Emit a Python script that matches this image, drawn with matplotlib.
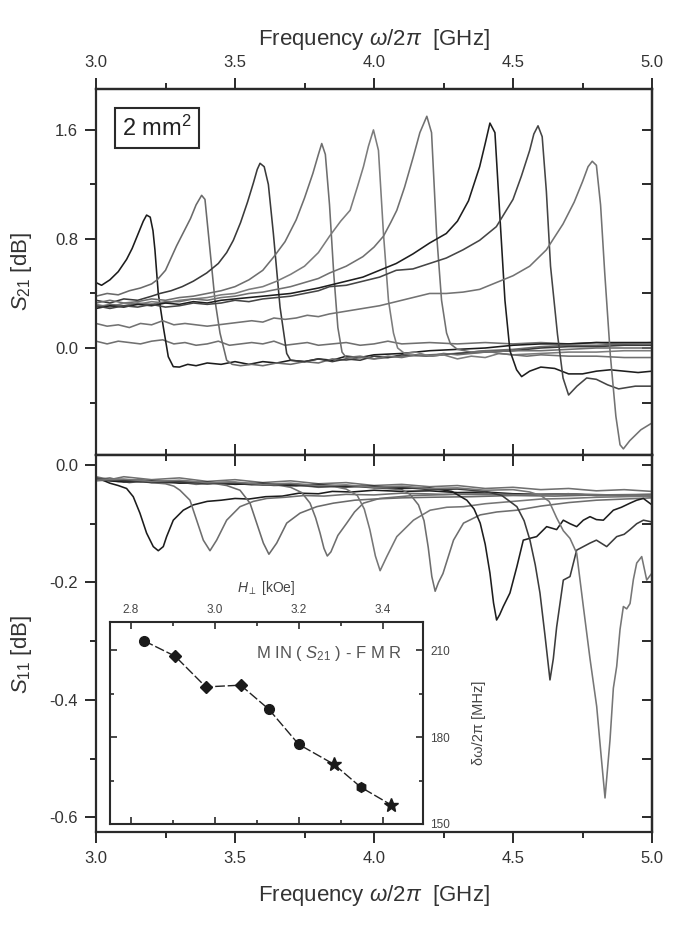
import matplotlib
matplotlib.use("Agg")
from matplotlib import pyplot as plt
from matplotlib.ticker import MultipleLocator, FixedLocator

plt.rcParams['font.family'] = ['Liberation Sans', 'DejaVu Sans']
plt.rcParams['mathtext.fontset'] = 'custom'
plt.rcParams['mathtext.rm'] = 'Liberation Sans'
plt.rcParams['mathtext.it'] = 'Liberation Sans:italic'
plt.rcParams['mathtext.bf'] = 'Liberation Sans:bold'

# S21 traces (frequency GHz, dB)
s21_0 = [(3.00,0.05),(3.04,0.03),(3.08,0.05),(3.12,0.04),(3.16,0.03),(3.20,0.05),(3.24,0.06),(3.28,0.03),(3.32,0.04),(3.36,0.02),
         (3.40,0.03),(3.44,0.05),(3.48,0.02),(3.52,0.03),(3.56,0.04),(3.60,0.03),(3.64,0.05),(3.68,0.02),(3.72,0.03),(3.76,0.04),
         (3.80,0.02),(3.85,0.03),(3.90,0.04),(3.95,0.02),(4.00,0.03),(4.05,0.05),(4.10,0.03),(4.20,0.04),(4.30,0.03),(4.40,0.04),
         (4.50,0.03),(4.60,0.04),(4.70,0.03),(4.80,0.04),(4.90,0.03),(5.00,0.04)]
s21_1 = [(3.00,0.48),(3.02,0.46),(3.05,0.50),(3.08,0.56),(3.11,0.65),(3.13,0.73),(3.15,0.83),(3.17,0.93),(3.182,0.975),(3.195,0.96),
         (3.205,0.86),(3.212,0.72),(3.224,0.40),(3.242,0.156),(3.26,-0.064),(3.278,-0.137),(3.30,-0.14),(3.33,-0.12),(3.36,-0.13),
         (3.40,-0.11),(3.45,-0.12),(3.50,-0.10),(3.55,-0.12),(3.60,-0.10),(3.65,-0.11),(3.70,-0.09),(3.75,-0.10),(3.80,-0.08),
         (3.85,-0.09),(3.90,-0.06),(3.95,-0.07),(4.00,-0.05),(4.10,-0.04),(4.20,-0.02),(4.30,-0.01),(4.40,0.0),(4.50,0.02),
         (4.60,0.03),(4.70,0.03),(4.80,0.04),(4.90,0.04),(5.00,0.04)]
s21_2 = [(3.00,0.38),(3.04,0.40),(3.08,0.39),(3.12,0.42),(3.16,0.44),(3.20,0.47),(3.22,0.50),(3.25,0.57),(3.29,0.75),(3.32,0.87),
         (3.34,0.95),(3.36,1.05),(3.38,1.12),(3.392,1.09),(3.41,0.72),(3.428,0.35),(3.446,0.11),(3.47,-0.09),(3.49,-0.12),
         (3.52,-0.13),(3.56,-0.12),(3.60,-0.13),(3.65,-0.11),(3.70,-0.12),(3.75,-0.10),(3.80,-0.11),(3.85,-0.08),(3.90,-0.09),
         (3.95,-0.07),(4.00,-0.08),(4.10,-0.06),(4.20,-0.05),(4.30,-0.04),(4.40,-0.02),(4.50,-0.01),(4.60,0.01),(4.70,0.02),
         (4.80,0.02),(4.90,0.03),(5.00,0.03)]
s21_3 = [(3.00,0.35),(3.05,0.33),(3.10,0.36),(3.15,0.35),(3.20,0.38),(3.23,0.40),(3.27,0.42),(3.31,0.45),(3.35,0.49),(3.398,0.55),
         (3.44,0.62),(3.47,0.70),(3.494,0.79),(3.52,0.92),(3.545,1.07),(3.566,1.21),(3.58,1.31),(3.59,1.355),(3.605,1.33),
         (3.62,1.20),(3.638,0.84),(3.662,0.30),(3.686,-0.04),(3.70,-0.09),(3.75,-0.10),(3.80,-0.08),(3.85,-0.10),(3.90,-0.08),
         (3.95,-0.09),(4.00,-0.06),(4.05,-0.07),(4.10,-0.05),(4.20,-0.06),(4.30,-0.04),(4.40,-0.03),(4.50,-0.02),(4.60,0.0),
         (4.70,0.01),(4.80,0.01),(4.90,0.02),(5.00,0.02)]
s21_4 = [(3.00,0.33),(3.05,0.35),(3.10,0.33),(3.15,0.34),(3.20,0.36),(3.25,0.35),(3.30,0.37),(3.35,0.38),(3.40,0.40),(3.45,0.42),
         (3.50,0.45),(3.55,0.50),(3.60,0.57),(3.64,0.67),(3.68,0.78),(3.72,0.94),(3.75,1.10),(3.78,1.28),(3.80,1.42),(3.812,1.50),
         (3.825,1.42),(3.84,1.05),(3.855,0.55),(3.87,0.15),(3.885,-0.03),(3.90,-0.07),(3.95,-0.06),(4.00,-0.08),(4.05,-0.06),
         (4.10,-0.07),(4.15,-0.05),(4.20,-0.06),(4.25,-0.04),(4.30,-0.05),(4.40,-0.03),(4.50,-0.02),(4.60,-0.02),(4.70,-0.01),
         (4.80,0.0),(4.90,0.0),(5.00,0.0)]
s21_5 = [(3.00,0.32),(3.05,0.30),(3.10,0.33),(3.15,0.32),(3.20,0.34),(3.25,0.33),(3.30,0.35),(3.35,0.36),(3.40,0.37),(3.45,0.39),
         (3.50,0.40),(3.55,0.43),(3.60,0.45),(3.65,0.49),(3.70,0.54),(3.75,0.60),(3.80,0.70),(3.84,0.82),(3.88,0.93),(3.914,1.01),
         (3.94,1.18),(3.962,1.33),(3.98,1.48),(3.998,1.60),(4.016,1.45),(4.034,0.84),(4.052,0.35),(4.07,0.11),(4.085,0.0),
         (4.11,-0.04),(4.15,-0.03),(4.20,-0.06),(4.25,-0.05),(4.30,-0.08),(4.35,-0.06),(4.40,-0.07),(4.45,-0.04),(4.50,-0.05),
         (4.60,-0.04),(4.70,-0.03),(4.80,-0.03),(4.90,-0.02),(5.00,-0.02)]
s21_6 = [(3.00,0.30),(3.05,0.32),(3.10,0.31),(3.15,0.33),(3.20,0.32),(3.25,0.34),(3.30,0.34),(3.35,0.36),(3.40,0.35),(3.45,0.37),
         (3.50,0.38),(3.55,0.40),(3.60,0.41),(3.65,0.43),(3.70,0.45),(3.75,0.48),(3.80,0.51),(3.84,0.55),(3.90,0.60),(3.96,0.67),
         (4.00,0.74),(4.034,0.82),(4.06,0.92),(4.082,1.01),(4.11,1.18),(4.141,1.40),(4.165,1.58),(4.19,1.70),(4.207,1.58),
         (4.225,0.84),(4.243,0.35),(4.261,0.11),(4.275,0.03),(4.30,-0.01),(4.35,-0.03),(4.40,-0.02),(4.45,-0.04),(4.50,-0.05),
         (4.55,-0.06),(4.60,-0.05),(4.70,-0.06),(4.80,-0.06),(4.90,-0.07),(5.00,-0.07)]
s21_7 = [(3.00,0.29),(3.05,0.31),(3.10,0.30),(3.15,0.32),(3.20,0.31),(3.25,0.33),(3.30,0.32),(3.35,0.34),(3.40,0.33),(3.45,0.35),
         (3.50,0.36),(3.55,0.37),(3.60,0.38),(3.65,0.39),(3.70,0.40),(3.75,0.42),(3.80,0.44),(3.84,0.46),(3.90,0.49),(3.96,0.52),
         (4.02,0.57),(4.08,0.62),(4.14,0.69),(4.20,0.77),(4.26,0.84),(4.30,0.93),(4.34,1.08),(4.38,1.33),(4.40,1.50),(4.417,1.65),
         (4.435,1.58),(4.453,0.96),(4.471,0.35),(4.489,-0.02),(4.513,-0.16),(4.531,-0.21),(4.56,-0.17),(4.60,-0.14),(4.65,-0.15),
         (4.70,-0.19),(4.75,-0.19),(4.80,-0.17),(4.85,-0.16),(4.90,-0.17),(4.95,-0.18),(5.00,-0.17)]
s21_8 = [(3.00,0.31),(3.05,0.29),(3.10,0.31),(3.15,0.30),(3.20,0.32),(3.25,0.30),(3.30,0.31),(3.35,0.33),(3.40,0.32),(3.45,0.33),
         (3.50,0.35),(3.55,0.34),(3.60,0.36),(3.65,0.37),(3.70,0.38),(3.75,0.40),(3.80,0.42),(3.84,0.45),(3.90,0.46),(3.96,0.49),
         (4.02,0.52),(4.08,0.57),(4.14,0.58),(4.20,0.62),(4.26,0.66),(4.32,0.72),(4.38,0.79),(4.44,0.89),(4.50,1.09),(4.53,1.26),
         (4.56,1.45),(4.575,1.57),(4.59,1.63),(4.605,1.55),(4.62,1.15),(4.635,0.60),(4.66,0.10),(4.68,-0.22),(4.70,-0.345),
         (4.73,-0.28),(4.765,-0.22),(4.80,-0.23),(4.84,-0.27),(4.88,-0.30),(4.94,-0.28),(5.00,-0.28)]
s21_9 = [(3.00,0.18),(3.04,0.16),(3.08,0.17),(3.12,0.15),(3.16,0.18),(3.20,0.17),(3.24,0.20),(3.28,0.17),(3.32,0.18),(3.36,0.17),
         (3.40,0.16),(3.44,0.17),(3.48,0.18),(3.52,0.19),(3.56,0.20),(3.60,0.19),(3.64,0.22),(3.68,0.21),(3.72,0.22),(3.76,0.24),
         (3.80,0.23),(3.84,0.25),(3.90,0.27),(3.96,0.29),(4.02,0.31),(4.08,0.34),(4.14,0.37),(4.20,0.40),(4.26,0.40),(4.32,0.41),
         (4.38,0.43),(4.44,0.48),(4.50,0.53),(4.56,0.60),(4.62,0.72),(4.68,0.91),(4.72,1.07),(4.75,1.22),(4.77,1.33),(4.785,1.37),
         (4.80,1.34),(4.815,1.05),(4.83,0.55),(4.85,-0.05),(4.87,-0.50),(4.885,-0.71),(4.897,-0.74),(4.92,-0.68),(4.96,-0.60),
         (5.00,-0.55)]

# S11 traces
s11_0 = [(3.00,-0.020),(3.05,-0.025),(3.10,-0.020),(3.20,-0.025),(3.30,-0.022),(3.40,-0.028),(3.50,-0.025),(3.60,-0.030),
         (3.70,-0.027),(3.80,-0.032),(3.90,-0.030),(4.00,-0.035),(4.10,-0.033),(4.20,-0.037),(4.30,-0.035),(4.40,-0.040),
         (4.50,-0.038),(4.60,-0.042),(4.70,-0.040),(4.80,-0.044),(4.90,-0.042),(5.00,-0.045)]
s11_1 = [(3.00,-0.022),(3.03,-0.027),(3.05,-0.031),(3.08,-0.035),(3.11,-0.040),(3.134,-0.054),(3.158,-0.082),(3.182,-0.116),
         (3.206,-0.139),(3.224,-0.146),(3.242,-0.139),(3.254,-0.122),(3.278,-0.094),(3.314,-0.077),(3.35,-0.068),(3.40,-0.062),
         (3.45,-0.060),(3.50,-0.057),(3.55,-0.058),(3.61,-0.054),(3.67,-0.053),(3.73,-0.048),(3.80,-0.049),(3.85,-0.045),
         (3.92,-0.046),(4.00,-0.043),(4.10,-0.045),(4.20,-0.044),(4.30,-0.047),(4.40,-0.046),(4.50,-0.049),(4.60,-0.050),
         (4.70,-0.049),(4.80,-0.052),(4.90,-0.051),(5.00,-0.054)]
s11_2 = [(3.00,-0.025),(3.05,-0.022),(3.10,-0.028),(3.15,-0.026),(3.20,-0.030),(3.25,-0.032),(3.28,-0.036),(3.302,-0.043),
         (3.338,-0.060),(3.362,-0.094),(3.386,-0.128),(3.41,-0.146),(3.434,-0.128),(3.47,-0.094),(3.518,-0.071),(3.566,-0.062),
         (3.614,-0.057),(3.68,-0.055),(3.75,-0.052),(3.82,-0.053),(3.90,-0.050),(4.00,-0.051),(4.10,-0.048),(4.25,-0.050),
         (4.40,-0.049),(4.55,-0.051),(4.70,-0.050),(4.85,-0.052),(5.00,-0.050)]
s11_3 = [(3.00,-0.027),(3.06,-0.025),(3.12,-0.030),(3.18,-0.027),(3.24,-0.031),(3.30,-0.029),(3.36,-0.033),(3.42,-0.031),
         (3.47,-0.035),(3.518,-0.043),(3.554,-0.065),(3.578,-0.099),(3.602,-0.133),(3.622,-0.152),(3.65,-0.133),(3.686,-0.099),
         (3.734,-0.082),(3.794,-0.071),(3.854,-0.065),(3.93,-0.060),(4.00,-0.058),(4.10,-0.056),(4.20,-0.055),(4.35,-0.054),
         (4.50,-0.052),(4.65,-0.053),(4.80,-0.051),(5.00,-0.050)]
s11_4 = [(3.00,-0.024),(3.08,-0.028),(3.16,-0.026),(3.24,-0.030),(3.32,-0.028),(3.40,-0.032),(3.48,-0.030),(3.56,-0.034),
         (3.64,-0.033),(3.70,-0.038),(3.74,-0.047),(3.77,-0.065),(3.79,-0.090),(3.806,-0.116),(3.82,-0.142),(3.832,-0.155),
         (3.845,-0.148),(3.87,-0.120),(3.902,-0.099),(3.93,-0.080),(3.962,-0.065),(4.02,-0.057),(4.14,-0.052),(4.30,-0.050),
         (4.50,-0.051),(4.70,-0.049),(4.85,-0.051),(5.00,-0.052)]
s11_5 = [(3.00,-0.026),(3.08,-0.024),(3.16,-0.029),(3.24,-0.027),(3.32,-0.031),(3.40,-0.029),(3.48,-0.033),(3.56,-0.031),
         (3.64,-0.035),(3.72,-0.034),(3.80,-0.038),(3.86,-0.037),(3.90,-0.041),(3.94,-0.052),(3.965,-0.075),(3.985,-0.110),
         (4.005,-0.155),(4.022,-0.180),(4.046,-0.156),(4.082,-0.122),(4.142,-0.094),(4.202,-0.077),(4.262,-0.072),(4.322,-0.071),
         (4.40,-0.066),(4.50,-0.062),(4.60,-0.058),(4.70,-0.057),(4.80,-0.055),(4.90,-0.054),(5.00,-0.053)]
s11_6 = [(3.00,-0.023),(3.08,-0.027),(3.16,-0.025),(3.24,-0.029),(3.32,-0.027),(3.40,-0.031),(3.48,-0.029),(3.56,-0.033),
         (3.64,-0.032),(3.72,-0.036),(3.80,-0.034),(3.88,-0.038),(3.96,-0.036),(4.04,-0.040),(4.10,-0.042),(4.13,-0.050),
         (4.16,-0.068),(4.18,-0.095),(4.195,-0.140),(4.208,-0.190),(4.22,-0.215),(4.232,-0.200),(4.248,-0.185),(4.286,-0.128),
         (4.322,-0.099),(4.382,-0.085),(4.442,-0.080),(4.514,-0.077),(4.60,-0.070),(4.70,-0.064),(4.80,-0.060),(4.90,-0.058),
         (5.00,-0.056)]
s11_7 = [(3.00,-0.025),(3.10,-0.029),(3.20,-0.027),(3.30,-0.031),(3.40,-0.029),(3.50,-0.033),(3.60,-0.031),(3.70,-0.035),
         (3.80,-0.033),(3.90,-0.037),(4.00,-0.036),(4.10,-0.040),(4.20,-0.039),(4.28,-0.045),(4.334,-0.060),(4.36,-0.075),
         (4.382,-0.099),(4.40,-0.135),(4.417,-0.184),(4.43,-0.235),(4.441,-0.264),(4.452,-0.255),(4.465,-0.241),(4.489,-0.218),
         (4.514,-0.173),(4.537,-0.128),(4.56,-0.125),(4.585,-0.122),(4.621,-0.105),(4.657,-0.110),(4.681,-0.094),(4.705,-0.100),
         (4.729,-0.105),(4.753,-0.094),(4.777,-0.088),(4.80,-0.093),(4.825,-0.094),(4.861,-0.077),(4.89,-0.072),(4.921,-0.065),
         (4.945,-0.060),(4.969,-0.057),(5.00,-0.068)]
s11_8 = [(3.00,-0.024),(3.10,-0.026),(3.20,-0.030),(3.30,-0.028),(3.40,-0.032),(3.50,-0.030),(3.60,-0.034),(3.70,-0.033),
         (3.80,-0.037),(3.90,-0.035),(4.00,-0.039),(4.10,-0.038),(4.20,-0.042),(4.30,-0.041),(4.40,-0.045),(4.46,-0.052),
         (4.514,-0.071),(4.54,-0.095),(4.561,-0.128),(4.58,-0.170),(4.597,-0.218),(4.615,-0.290),(4.633,-0.366),(4.645,-0.330),
         (4.657,-0.276),(4.681,-0.196),(4.705,-0.190),(4.729,-0.145),(4.753,-0.139),(4.777,-0.133),(4.80,-0.128),(4.837,-0.139),
         (4.873,-0.122),(4.90,-0.118),(4.921,-0.110),(4.945,-0.100),(4.969,-0.094),(5.00,-0.097)]
s11_9 = [(3.00,-0.026),(3.10,-0.024),(3.20,-0.028),(3.30,-0.026),(3.40,-0.030),(3.50,-0.029),(3.60,-0.033),(3.70,-0.031),
         (3.80,-0.035),(3.90,-0.034),(4.00,-0.038),(4.10,-0.036),(4.20,-0.040),(4.30,-0.039),(4.40,-0.043),(4.50,-0.042),
         (4.56,-0.046),(4.60,-0.052),(4.63,-0.062),(4.657,-0.090),(4.681,-0.112),(4.705,-0.125),(4.729,-0.150),(4.753,-0.241),
         (4.777,-0.330),(4.801,-0.411),(4.816,-0.490),(4.831,-0.567),(4.849,-0.468),(4.861,-0.380),(4.873,-0.343),(4.885,-0.280),
         (4.897,-0.241),(4.909,-0.245),(4.921,-0.236),(4.933,-0.195),(4.945,-0.167),(4.963,-0.156),(4.981,-0.196),(5.00,-0.184)]

s21_traces = [s21_0, s21_1, s21_2, s21_3, s21_4, s21_5, s21_6, s21_7, s21_8, s21_9]
s11_traces = [s11_0, s11_1, s11_2, s11_3, s11_4, s11_5, s11_6, s11_7, s11_8, s11_9]
s21_colors = ['#707070', '#1c1c1c', '#6a6a6a', '#3a3a3a', '#6e6e6e', '#7c7c7c', '#707070', '#1e1e1e', '#454545', '#727272']
s11_colors = ['#707070', '#1c1c1c', '#6e6e6e', '#6a6a6a', '#6e6e6e', '#767676', '#6e6e6e', '#1e1e1e', '#3c3c3c', '#767676']

freq_ticks = [3.0, 3.5, 4.0, 4.5, 5.0]
freq_minor = [3.25, 3.75, 4.25, 4.75]

# inset: linewidth vs field
inset_h = [2.831, 2.905, 2.978, 3.061, 3.128, 3.199, 3.283, 3.347, 3.419]
inset_dw = [213.2, 207.9, 197.3, 197.9, 189.6, 177.5, 170.6, 162.7, 156.6]
inset_markers = ['o', 'D', 'D', 'D', 'o', 'o', '*', 'h', '*']

txt = '#333333'
frame = '#2a2a2a'

fig = plt.figure(figsize=(6.78, 9.35), dpi=100)
ax1 = fig.add_axes([96/678, 1-455/935, 556/678, 366/935])
ax2 = fig.add_axes([96/678, 1-832/935, 556/678, 377/935])

for tr, c in zip(s21_traces, s21_colors):
    f, v = zip(*tr)
    ax1.plot(f, v, color=c, lw=1.15)
for tr, c in zip(s11_traces, s11_colors):
    f, v = zip(*tr)
    ax2.plot(f, v, color=c, lw=1.15)

ax1.set_xlim(3.0, 5.0)
ax1.set_ylim(-0.785, 1.90)
ax2.set_xlim(3.0, 5.0)
ax2.set_ylim(-0.625, 0.017)

for ax in (ax1, ax2):
    for s in ax.spines.values():
        s.set_linewidth(1.6)
        s.set_color(frame)
    ax.xaxis.set_major_locator(FixedLocator(freq_ticks))
    ax.xaxis.set_minor_locator(FixedLocator(freq_minor))
    ax.tick_params(axis='both', which='major', length=8, width=1.4, color=frame,
                   labelsize=12, labelcolor=txt)
    ax.tick_params(axis='both', which='minor', length=4.5, width=1.4, color=frame)
    ax.tick_params(axis='y', which='both', direction='out', pad=5)

ax1.yaxis.set_major_locator(FixedLocator([0.0, 0.8, 1.6]))
ax1.yaxis.set_minor_locator(FixedLocator([-0.4, 0.4, 1.2]))
ax1.yaxis.set_major_formatter(matplotlib.ticker.FormatStrFormatter('%.1f'))
ax1.tick_params(axis='x', which='both', direction='in', labelbottom=False)

ax2.yaxis.set_major_locator(FixedLocator([-0.6, -0.4, -0.2, 0.0]))
ax2.yaxis.set_minor_locator(FixedLocator([-0.5, -0.3, -0.1]))
ax2.yaxis.set_major_formatter(matplotlib.ticker.FormatStrFormatter('%.1f'))
ax2.tick_params(axis='x', which='both', direction='out', pad=6)

# top frequency axis, outward ticks
top = ax1.secondary_xaxis('top')
top.xaxis.set_major_locator(FixedLocator(freq_ticks))
top.xaxis.set_minor_locator(FixedLocator(freq_minor))
top.tick_params(which='major', direction='out', length=8, width=1.4, color=frame,
                labelsize=12, labelcolor=txt, pad=6)
top.tick_params(which='minor', direction='out', length=4.5, width=1.4, color=frame)
top.spines['top'].set_linewidth(1.6)
top.spines['top'].set_color(frame)
top.set_xlabel('Frequency $\\omega$/2$\\pi$  [GHz]', fontsize=16, color=txt, labelpad=7)

# inward ticks on the shared border and on the right
top2 = ax2.secondary_xaxis('top')
top2.xaxis.set_major_locator(FixedLocator(freq_ticks))
top2.xaxis.set_minor_locator(FixedLocator(freq_minor))
top2.tick_params(which='major', direction='in', length=8, width=1.4, color=frame, labeltop=False)
top2.tick_params(which='minor', direction='in', length=4.5, width=1.4, color=frame)
top2.spines['top'].set_linewidth(1.6)

r1 = ax1.secondary_yaxis('right')
r1.yaxis.set_major_locator(FixedLocator([-0.4, 0.0, 0.4, 0.8, 1.2, 1.6]))
r1.tick_params(which='major', direction='in', length=7, width=1.4, color=frame, labelright=False)
r1.spines['right'].set_linewidth(1.6)
r2 = ax2.secondary_yaxis('right')
r2.yaxis.set_major_locator(FixedLocator([-0.6, -0.5, -0.4, -0.3, -0.2, -0.1, 0.0]))
r2.tick_params(which='major', direction='in', length=7, width=1.4, color=frame, labelright=False)
r2.spines['right'].set_linewidth(1.6)

ax1.set_ylabel('$S_{21}$ [dB]', fontsize=16, color=txt)
ax2.set_ylabel('$S_{11}$ [dB]', fontsize=16, color=txt)
ax2.set_xlabel('Frequency $\\omega$/2$\\pi$  [GHz]', fontsize=16, color=txt, labelpad=12)
ax1.yaxis.set_label_coords(-0.112, 0.5)
ax2.yaxis.set_label_coords(-0.112, 0.47)

ax1.text(0.1097, 0.893, '2 mm$^2$', transform=ax1.transAxes, fontsize=17, color='#222222',
         ha='center', va='center',
         bbox=dict(boxstyle='square,pad=0.3', fc='white', ec=frame, lw=1.5))

# inset
ins = fig.add_axes([110/678, 1-824/935, 313/678, 202/935])
ins.set_facecolor('white')
ins.plot(inset_h, inset_dw, color='#222222', lw=1.0, ls=(0, (7, 2)))
for h, d, m in zip(inset_h, inset_dw, inset_markers):
    ms = 10 if m == '*' else (6 if m == 'D' else 7)
    ins.plot([h], [d], marker=m, color='#1a1a1a', ms=ms, ls='none')
ins.set_xlim(2.75, 3.495)
ins.set_ylim(150, 219.7)
ins.xaxis.set_major_locator(FixedLocator([2.8, 3.0, 3.2, 3.4]))
ins.xaxis.set_minor_locator(FixedLocator([2.9, 3.1, 3.3]))
ins.yaxis.set_major_locator(FixedLocator([150, 180, 210]))
ins.yaxis.set_minor_locator(FixedLocator([165, 195]))
for s in ins.spines.values():
    s.set_linewidth(1.5)
    s.set_color(frame)
ins.tick_params(axis='both', which='both', direction='in', top=True, bottom=True, left=True, right=True,
                labeltop=True, labelbottom=False, labelleft=False, labelright=True,
                width=1.2, color=frame, labelsize=8.5, labelcolor='#444444')
ins.tick_params(which='major', length=5)
ins.tick_params(which='minor', length=3)
ins.tick_params(axis='x', pad=4)
ins.tick_params(axis='y', pad=5)
ins.xaxis.set_label_position('top')
ins.yaxis.set_label_position('right')
ins.set_xlabel('$H_{\\perp}$ [kOe]', fontsize=10, color='#444444', labelpad=9)
ins.set_ylabel('δω/2π [MHz]', fontsize=10.5, color='#444444', labelpad=16)
ins.text(0.70, 0.845, 'M IN ( $S_{21}$ ) - F M R', transform=ins.transAxes, fontsize=12,
         color='#555555', ha='center', va='center')

fig.savefig('out.png', dpi=100)
